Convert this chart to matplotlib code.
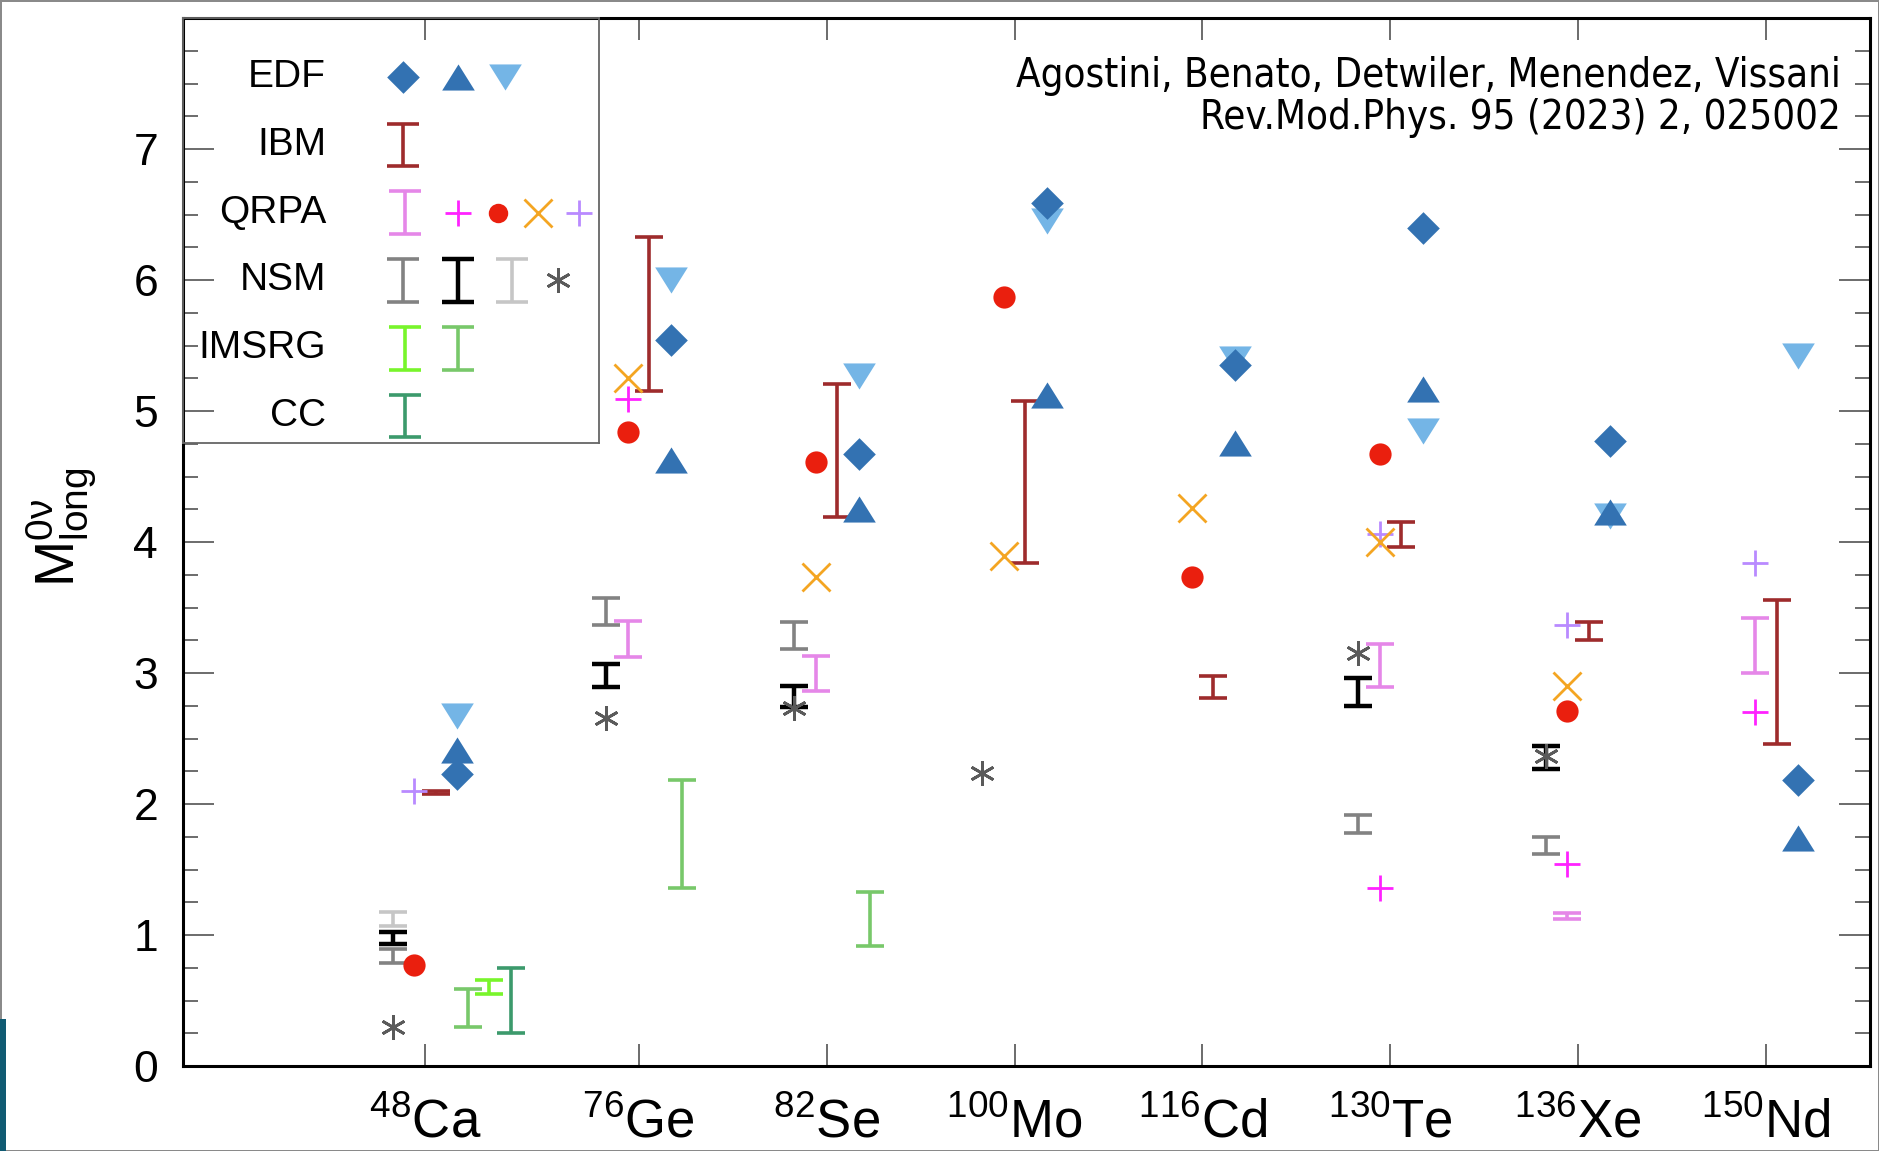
import numpy as np
import matplotlib.pyplot as plt
from matplotlib.patches import Rectangle
from matplotlib.ticker import MultipleLocator

plt.rcParams['font.family'] = ['Liberation Sans', 'DejaVu Sans']
plt.rcParams['mathtext.fontset'] = 'custom'
plt.rcParams['mathtext.rm'] = 'Liberation Sans'
plt.rcParams['mathtext.it'] = 'Liberation Sans:italic'
plt.rcParams['mathtext.bf'] = 'Liberation Sans:bold'

nan = np.nan

# nuclei on the x axis
mass_numbers = ['48', '76', '82', '100', '116', '130', '136', '150']
elements = ['Ca', 'Ge', 'Se', 'Mo', 'Cd', 'Te', 'Xe', 'Nd']

# EDF
edf_diamond = [2.23, 5.54, 4.67, 6.59, 5.35, 6.40, 4.77, 2.18]
edf_up = [2.41, 4.63, 4.25, 5.12, 4.76, 5.17, 4.23, 1.74]
edf_down = [2.67, 6.00, 5.27, 6.45, 5.40, 4.85, 4.20, 5.42]

# IBM (ranges)
ibm_lo = [2.08, 5.15, 4.19, 3.84, 2.81, 3.96, 3.25, 2.46]
ibm_hi = [2.10, 6.33, 5.21, 5.08, 2.98, 4.15, 3.39, 3.56]

# QRPA
qrpa_lo = [nan, 3.12, 2.86, nan, nan, 2.89, 1.12, 3.00]
qrpa_hi = [nan, 3.40, 3.13, nan, nan, 3.22, 1.17, 3.42]
qrpa_plus = [nan, 5.09, nan, nan, nan, 1.36, 1.54, 2.70]
qrpa_dot = [0.77, 4.84, 4.61, 5.87, 3.73, 4.67, 2.71, nan]
qrpa_cross = [nan, 5.25, 3.73, 3.89, 4.26, 4.00, 2.90, nan]
qrpa_plus2 = [2.10, nan, nan, nan, nan, 4.06, 3.37, 3.84]

# NSM
nsm_gray_lo = [0.79, 3.37, 3.18, nan, nan, 1.78, 1.62, nan]
nsm_gray_hi = [0.89, 3.57, 3.39, nan, nan, 1.92, 1.75, nan]
nsm_black_lo = [0.93, 2.89, 2.74, nan, nan, 2.75, 2.27, nan]
nsm_black_hi = [1.02, 3.07, 2.90, nan, nan, 2.96, 2.44, nan]
nsm_light_lo = [1.07, nan, nan, nan, nan, nan, nan, nan]
nsm_light_hi = [1.175, nan, nan, nan, nan, nan, nan, nan]
nsm_star = [0.30, 2.66, 2.73, 2.235, nan, 3.15, 2.37, nan]

# IMSRG and CC
imsrg1_lo = [0.55, nan, nan, nan, nan, nan, nan, nan]
imsrg1_hi = [0.66, nan, nan, nan, nan, nan, nan, nan]
imsrg2_lo = [0.30, 1.36, 0.92, nan, nan, nan, nan, nan]
imsrg2_hi = [0.59, 2.18, 1.33, nan, nan, nan, nan, nan]
cc_lo = [0.25, nan, nan, nan, nan, nan, nan, nan]
cc_hi = [0.75, nan, nan, nan, nan, nan, nan, nan]

# colours
c_edf = '#3372b2'
c_edf_light = '#74b5e6'
c_ibm = '#9e2b2c'
c_qrpa = '#e587e8'
c_magenta = '#ff22ff'
c_red = '#ea1f0e'
c_orange = '#f4a522'
c_purple = '#b98aff'
c_gray = '#828282'
c_light = '#c6c6c6'
c_star = '#5a5a5a'
c_green1 = '#78f52b'
c_green2 = '#78c86a'
c_cc = '#3c9a6c'

# marker shapes
tri_up = [(-1, -0.8), (1, -0.8), (0, 0.8)]
tri_down = [(-1, 0.8), (1, 0.8), (0, -0.8)]
diamond = [(0, 1), (1, 0), (0, -1), (-1, 0)]

styles = {
    'diamond': dict(marker=diamond, ms=23.5, color=c_edf, mew=0),
    'up': dict(marker=tri_up, ms=23.5, color=c_edf, mew=0),
    'down': dict(marker=tri_down, ms=23.5, color=c_edf_light, mew=0),
    'plus': dict(marker='+', ms=19, color=c_magenta, mew=2.0),
    'dot': dict(marker='o', ms=16, color=c_red, mew=0),
    'cross': dict(marker='x', ms=20, color=c_orange, mew=2.0),
    'plus2': dict(marker='+', ms=19, color=c_purple, mew=2.0),
    'star': dict(marker=(6, 2, 0), ms=18, color=c_star, mew=2.0),
}
bar_styles = {
    'ibm': dict(color=c_ibm, lw=2.6),
    'qrpa': dict(color=c_qrpa, lw=2.6),
    'gray': dict(color=c_gray, lw=2.6),
    'black': dict(color='black', lw=3.2),
    'light': dict(color=c_light, lw=2.6),
    'green1': dict(color=c_green1, lw=2.6),
    'green2': dict(color=c_green2, lw=2.6),
    'cc': dict(color=c_cc, lw=2.6),
}

tick_pos = np.array([0.862, 2, 3, 4, 5, 6, 7, 8])
slot = 0.1144

fig = plt.figure(figsize=(18.79, 11.51), dpi=100)
ax = fig.add_axes([0.0974, 0.0738, 0.8978, 0.9105])


def draw_bars(axis, x, lo, hi, st, capsize=10.4):
    lo = np.asarray(lo, float)
    hi = np.asarray(hi, float)
    axis.errorbar(x, (lo + hi) / 2, yerr=(hi - lo) / 2, fmt='none',
                  ecolor=st['color'], elinewidth=st['lw'],
                  capsize=capsize, capthick=st['lw'])


def draw_points(axis, x, y, st):
    axis.plot(x, y, ls='none', **st)


# ranges
draw_bars(ax, tick_pos - 1.5 * slot, nsm_gray_lo, nsm_gray_hi, bar_styles['gray'])
draw_bars(ax, tick_pos - 1.5 * slot, nsm_light_lo, nsm_light_hi, bar_styles['light'])
draw_bars(ax, tick_pos - 1.5 * slot, nsm_black_lo, nsm_black_hi, bar_styles['black'])
draw_bars(ax, tick_pos - 0.5 * slot, qrpa_lo, qrpa_hi, bar_styles['qrpa'])
draw_bars(ax, tick_pos + 0.5 * slot, ibm_lo, ibm_hi, bar_styles['ibm'])
draw_bars(ax, tick_pos + 2 * slot, imsrg2_lo, imsrg2_hi, bar_styles['green2'])
draw_bars(ax, tick_pos + 3 * slot, imsrg1_lo, imsrg1_hi, bar_styles['green1'])
draw_bars(ax, tick_pos + 4 * slot, cc_lo, cc_hi, bar_styles['cc'])

# single values
draw_points(ax, tick_pos - 1.5 * slot, nsm_star, styles['star'])
draw_points(ax, tick_pos - 0.5 * slot, qrpa_plus, styles['plus'])
draw_points(ax, tick_pos - 0.5 * slot, qrpa_dot, styles['dot'])
draw_points(ax, tick_pos - 0.5 * slot, qrpa_plus2, styles['plus2'])
draw_points(ax, tick_pos - 0.5 * slot, qrpa_cross, styles['cross'])
draw_points(ax, tick_pos + 1.5 * slot, edf_down, styles['down'])
draw_points(ax, tick_pos + 1.5 * slot, edf_up, styles['up'])
draw_points(ax, tick_pos + 1.5 * slot, edf_diamond, styles['diamond'])

ax.set_xlim(-0.4255, 8.553)
ax.set_ylim(0, 8)
ax.set_xticks(tick_pos)
ax.set_xticklabels([rf'$^{{{m}}}$' + el for m, el in zip(mass_numbers, elements)],
                   fontsize=38)
ax.set_yticks(range(8))
ax.yaxis.set_minor_locator(MultipleLocator(0.25))
ax.tick_params(axis='y', labelsize=32, pad=18)
ax.tick_params(which='both', direction='in', top=True, right=True, color='#444444')
ax.tick_params(axis='y', which='major', length=22, width=1.1)
ax.tick_params(axis='y', which='minor', length=11, width=1.1)
ax.tick_params(axis='x', which='major', length=16, width=1.1, pad=23)
for sp in ax.spines.values():
    sp.set_linewidth(2.2)

ax.set_ylabel(r'$\mathrm{M}^{\mathrm{0ν}}_{\mathrm{long}}$', fontsize=40)
ax.yaxis.set_label_coords(-0.050, 0.514)

cite_font = dict(family=['DejaVu Sans', 'Liberation Sans'], stretch='condensed',
                 fontsize=28.8)
ax.text(0.983, 0.934, 'Agostini, Benato, Detwiler, Menendez, Vissani',
        transform=ax.transAxes, ha='right', va='baseline', **cite_font)
ax.text(0.983, 0.894, 'Rev.Mod.Phys. 95 (2023) 2, 025002',
        transform=ax.transAxes, ha='right', va='baseline', **cite_font)

# legend box drawn as an inset
lax = ax.inset_axes([0, 0.5945, 0.2466, 0.4055])
lax.set_xlim(0, 1)
lax.set_ylim(0, 1)
lax.set_facecolor('none')
lax.set_xticks([])
lax.set_yticks([])
for sp in lax.spines.values():
    sp.set_color('#666666')
    sp.set_linewidth(1.3)

legend_rows = [
    ('EDF', [('diamond', 0.529), ('up', 0.661), ('down', 0.774)]),
    ('IBM', [('ibm', 0.529)]),
    ('QRPA', [('qrpa', 0.534), ('plus', 0.661), ('dot', 0.757),
              ('cross', 0.853), ('plus2', 0.952)]),
    ('NSM', [('gray', 0.529), ('black', 0.661), ('light', 0.791), ('star', 0.901)]),
    ('IMSRG', [('green1', 0.534), ('green2', 0.661)]),
    ('CC', [('cc', 0.534)]),
]
row_y = 0.861 - 0.1595 * np.arange(len(legend_rows))
for (label, items), ry in zip(legend_rows, row_y):
    lax.text(0.344, ry, label, ha='right', va='center', fontsize=28)
    for key, lx in items:
        if key in bar_styles:
            st = bar_styles[key]
            lax.errorbar([lx], [ry], yerr=0.05, fmt='none', ecolor=st['color'],
                         elinewidth=st['lw'], capsize=11.5, capthick=st['lw'])
        else:
            st = dict(styles[key])
            if key == 'dot':
                st['ms'] = 14
            lax.plot([lx], [ry], ls='none', **st)

# thin frame round the figure and the dark strip at its lower left corner
fig.patch.set_edgecolor('#8a8a8a')
fig.patch.set_linewidth(2)
fig.patches.append(Rectangle((0, 0), 0.0032, 0.115, transform=fig.transFigure,
                             facecolor='#0f5a72', edgecolor='none'))

fig.savefig('out.png', dpi=100)
